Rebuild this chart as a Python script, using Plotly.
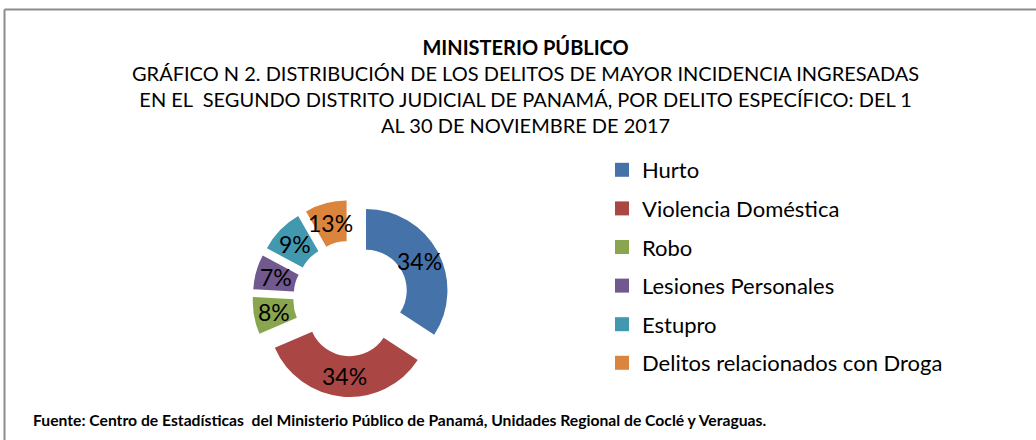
import math
import plotly.graph_objects as go

# ---- data ----
categories = ["Hurto", "Violencia Doméstica", "Robo", "Lesiones Personales",
              "Estupro", "Delitos relacionados con Droga"]
shares = [34.2, 34.3, 7.4, 6.9, 8.9, 8.3]
labels_pct = ["34%", "34%", "8%", "7%", "9%", "13%"]
colors = ["#4672AA", "#AA4643", "#89A54E", "#71588F", "#4198AF", "#DB843D"]

title_main = "MINISTERIO PÚBLICO"
subtitle_lines = [
    "GRÁFICO N 2. DISTRIBUCIÓN DE LOS DELITOS DE MAYOR INCIDENCIA INGRESADAS",
    "EN EL  SEGUNDO DISTRITO JUDICIAL DE PANAMÁ, POR DELITO ESPECÍFICO: DEL 1",
    "AL 30 DE NOVIEMBRE DE 2017",
]
footer = "Fuente: Centro de Estadísticas  del Ministerio Público de Panamá, Unidades Regional de Coclé y Veraguas."

W, H = 1036, 440
FONT = "Lato"

# pie layout (pixels)
PIE_CX, PIE_CY, PIE_BOX = 351.0, 298.5, 197.0
PULL = 0.21
HOLE = 0.5


def px(x):
    return x / W


def py(y):
    return 1 - y / H


fig = go.Figure()

fig.add_trace(go.Pie(
    labels=categories,
    values=shares,
    textinfo="none",
    marker=dict(colors=colors, line=dict(width=0)),
    hole=HOLE,
    pull=[PULL] * len(categories),
    sort=False,
    direction="clockwise",
    rotation=0,
    showlegend=False,
    hoverinfo="label+percent",
    domain=dict(x=[px(PIE_CX - PIE_BOX / 2), px(PIE_CX + PIE_BOX / 2)],
                y=[py(PIE_CY + PIE_BOX / 2), py(PIE_CY - PIE_BOX / 2)]),
))

# legend entries (one per category, matching slice colours)
for i, (cat, col) in enumerate(zip(categories, colors)):
    fig.add_trace(go.Scatter(
        x=[None], y=[None], mode="markers", name=cat,
        legendgroup="g%d" % i,
        marker=dict(symbol="square", size=14, color=col, line=dict(width=0)),
    ))

fig.update_xaxes(visible=False)
fig.update_yaxes(visible=False)

title_block = "<br>".join(["<b>%s</b>" % title_main] + subtitle_lines)
annotations = [
    dict(text=title_block, x=px(525), y=py(33), xref="paper", yref="paper",
         xanchor="center", yanchor="top", align="center", showarrow=False,
         font=dict(family=FONT, size=20, color="black")),
    dict(text="<b>%s</b>" % footer, x=px(31), y=py(420), xref="paper", yref="paper",
         xanchor="left", yanchor="middle", showarrow=False,
         font=dict(family=FONT, size=15.7, color="black")),
]

# data labels in the middle of each (pulled) ring segment, derived from the shares
R = PIE_BOX / 2 / (1 + PULL)
r_lab = PULL * R + (1 + HOLE) / 2 * R
total = sum(shares)
cum = 0.0
for val, lab in zip(shares, labels_pct):
    mid = (cum + val / 2) / total * 2 * math.pi
    cum += val
    lx = PIE_CX + r_lab * math.sin(mid)
    ly = PIE_CY - r_lab * math.cos(mid)
    annotations.append(dict(text=lab, x=px(lx), y=py(ly), xref="paper", yref="paper",
                            xanchor="center", yanchor="middle", showarrow=False,
                            font=dict(family=FONT, size=23, color="black")))

shapes = [
    dict(type="line", xref="paper", yref="paper", x0=px(4.5), x1=1.0, y0=py(9.5), y1=py(9.5),
         line=dict(color="#8C8C8C", width=2)),
    dict(type="line", xref="paper", yref="paper", x0=px(4.5), x1=px(4.5), y0=py(9.5), y1=0,
         line=dict(color="#8C8C8C", width=2)),
]

fig.update_layout(
    width=W, height=H,
    margin=dict(l=0, r=0, t=0, b=0),
    paper_bgcolor="white",
    plot_bgcolor="white",
    font=dict(family=FONT, color="black"),
    showlegend=True,
    legend=dict(x=px(602), y=py(149), xanchor="left", yanchor="top",
                font=dict(family=FONT, size=22, color="black"),
                tracegroupgap=7, itemsizing="trace", bgcolor="rgba(0,0,0,0)"),
    annotations=annotations,
    shapes=shapes,
)

fig.write_html("out.html", config={"displayModeBar": False},
               post_script="document.body.style.margin='0';")
